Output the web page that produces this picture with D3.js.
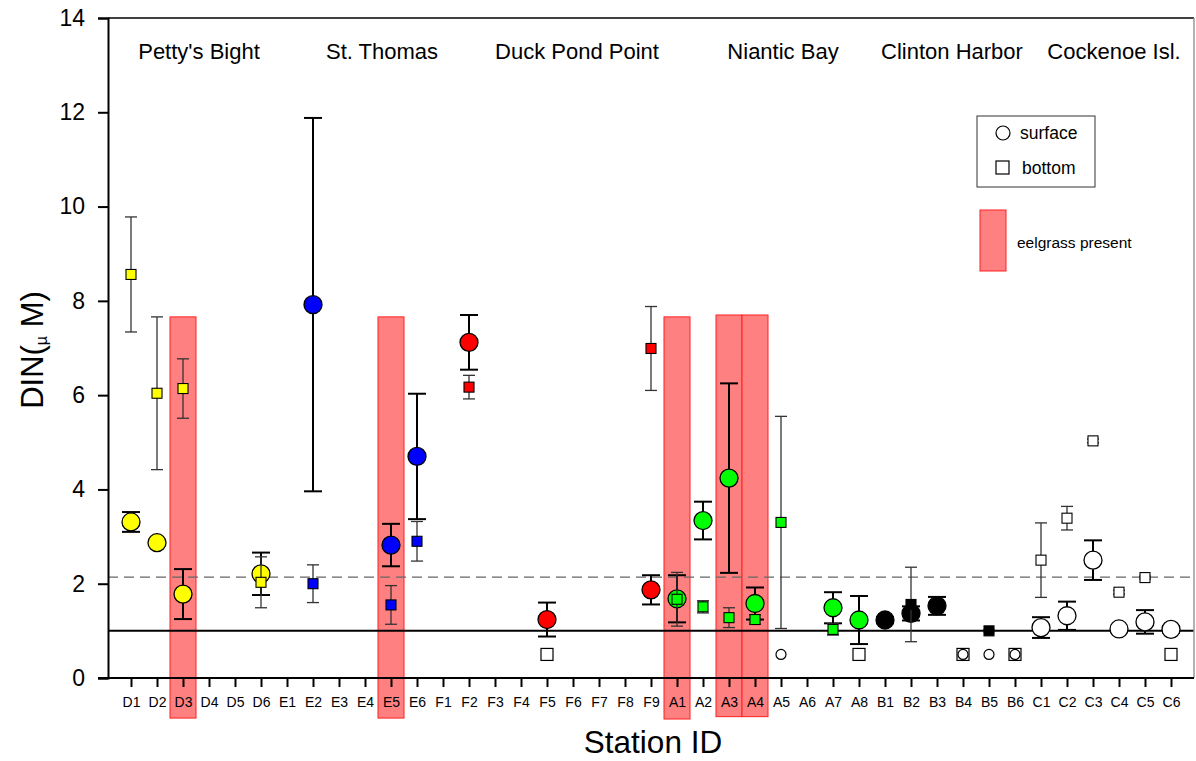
<!DOCTYPE html>
<html>
<head>
<meta charset="utf-8">
<script src="https://cdn.jsdelivr.net/npm/d3@7/dist/d3.min.js"></script>
<style>
  body { margin: 0; background: #fff; }
  svg { display: block; font-family: Arial, "Liberation Sans", sans-serif; }
</style>
</head>
<body>
<svg id="chart" width="1196" height="761"></svg>
<script>
// ---------------- DATA ----------------
const stations = ["D1","D2","D3","D4","D5","D6","E1","E2","E3","E4","E5","E6",
  "F1","F2","F3","F4","F5","F6","F7","F8","F9",
  "A1","A2","A3","A4","A5","A6","A7","A8",
  "B1","B2","B3","B4","B5","B6","C1","C2","C3","C4","C5","C6"];

const groupColors = { D: "#ffff00", E: "#0000ff", F: "#ff0000", A: "#00ff00", B: "#000000", C: "#ffffff" };

const surfaceMean = [3.31, 2.87, 1.78, null, null, 2.21,
  null, 7.92, null, null, 2.82, 4.70,
  null, 7.12, null, null, 1.24, null, null, null, 1.87,
  1.68, 3.34, 4.24, 1.58, null, null, 1.49, 1.23,
  1.23, 1.37, 1.53, null, null, null,
  1.07, 1.32, 2.50, 1.04, 1.19, 1.03];
const surfaceErr = [0.21, 0.05, 0.53, null, null, 0.45,
  null, 3.96, null, null, 0.45, 1.33,
  null, 0.58, null, null, 0.36, null, null, null, 0.31,
  0.50, 0.40, 2.01, 0.34, null, null, 0.33, 0.51,
  0.06, 0.15, 0.19, null, null, null,
  0.22, 0.30, 0.42, 0.03, 0.25, 0.07];

const bottomMean = [8.56, 6.04, 6.14, null, null, 2.03,
  null, 2.00, null, null, 1.55, 2.90,
  null, 6.17, null, null, null, null, null, null, 6.99,
  1.67, 1.51, 1.28, 1.24, 3.30, null, 1.03, null,
  null, 1.56, null, null, 1.00, null,
  2.50, 3.39, 5.03, 1.82, 2.13, null];
const bottomErr = [1.22, 1.62, 0.63, null, null, 0.54,
  null, 0.40, null, null, 0.41, 0.42,
  null, 0.25, null, null, null, null, null, null, 0.89,
  0.57, 0.13, 0.21, 0.10, 2.25, null, 0.12, null,
  null, 0.79, null, null, 0.02, null,
  0.79, 0.25, 0.04, 0.04, 0.03, null];

// not-detected placeholders plotted at a fixed value
const surfaceND = ["A5", "B4", "B5", "B6"];
const bottomND = ["F5", "A8", "B4", "B6", "C6"];
const ndValue = 0.5;

// eelgrass present bars
const eelStations = ["D3", "E5", "A1", "A3", "A4"];
const eelTop = [7.66, 7.66, 7.66, 7.70, 7.70];
const eelBottom = [-0.85, -0.85, -0.87, -0.82, -0.82];

// reference lines
const solidRef = 1.0;
const dashedRef = 2.14;

const regionNames = ["Petty's Bight", "St. Thomas", "Duck Pond Point", "Niantic Bay", "Clinton Harbor", "Cockenoe Isl."];
const yTicks = [0, 2, 4, 6, 8, 10, 12, 14];

// ---------------- LAYOUT ----------------
const svg = d3.select("#chart");
const plot = { left: 108, right: 1194, top: 18, bottom: 678 };
const x = d3.scalePoint().domain(stations).range([131, 1171]);
const y = d3.scaleLinear().domain([0, 14]).range([plot.bottom, plot.top]);
const step = x.step();
const colorOf = s => groupColors[s[0]];

// eelgrass bars (under everything)
svg.append("g").selectAll("rect").data(eelStations).join("rect")
  .attr("x", s => x(s) - step / 2)
  .attr("width", step)
  .attr("y", (s, i) => y(eelTop[i]))
  .attr("height", (s, i) => y(eelBottom[i]) - y(eelTop[i]))
  .attr("fill", "#ff8080").attr("stroke", "#ff2020").attr("stroke-width", 1);

// reference lines
svg.append("line").attr("x1", plot.left).attr("x2", plot.right)
  .attr("y1", y(solidRef)).attr("y2", y(solidRef))
  .attr("stroke", "#000").attr("stroke-width", 2);
svg.append("line").attr("x1", plot.left).attr("x2", 1196)
  .attr("y1", y(dashedRef)).attr("y2", y(dashedRef))
  .attr("stroke", "#666").attr("stroke-width", 1.3).attr("stroke-dasharray", "10,6");

// frame top & right
svg.append("line").attr("x1", plot.left).attr("x2", plot.right).attr("y1", plot.top).attr("y2", plot.top)
  .attr("stroke", "#000").attr("stroke-width", 1.5);
svg.append("line").attr("x1", plot.right).attr("x2", plot.right).attr("y1", plot.top).attr("y2", plot.bottom)
  .attr("stroke", "#999").attr("stroke-width", 1.5);

// axes
const yAxis = d3.axisLeft(y).tickValues(yTicks).tickSize(10).tickPadding(13).tickFormat(d3.format("d"));
const gy = svg.append("g").attr("transform", `translate(${plot.left},0)`).call(yAxis);
gy.select(".domain").attr("stroke", "#000").attr("stroke-width", 2);
gy.selectAll(".tick line").attr("stroke", "#000").attr("stroke-width", 2);
gy.selectAll(".tick text").attr("font-size", 23).attr("fill", "#000")
  .attr("font-family", "Arial, 'Liberation Sans', sans-serif");

const xAxis = d3.axisBottom(x).tickSize(9).tickPadding(10);
const gx = svg.append("g").attr("transform", `translate(0,${plot.bottom})`).call(xAxis);
gx.select(".domain").attr("d", `M${plot.left - 10},0H${plot.right}`).attr("stroke", "#000").attr("stroke-width", 2);
gx.selectAll(".tick line").attr("stroke", "#000").attr("stroke-width", 2);
gx.selectAll(".tick text").attr("font-size", 14).attr("fill", "#000")
  .attr("font-family", "Arial, 'Liberation Sans', sans-serif");

// axis titles
svg.append("text").attr("x", 653).attr("y", 753).attr("text-anchor", "middle")
  .attr("font-size", 31.5).text("Station ID");
const yt = svg.append("text").attr("transform", "translate(43,350) rotate(-90)")
  .attr("text-anchor", "middle").attr("font-size", 31);
yt.append("tspan").text("DIN(");
yt.append("tspan").attr("font-size", 16).attr("dy", 4).text("µ");
yt.append("tspan").attr("dy", -4).text(" M)");

// region labels
const regionX = [199, 382, 577, 783, 952, 1114];
svg.append("g").selectAll("text").data(regionNames).join("text")
  .attr("x", (d, i) => regionX[i]).attr("y", 59).attr("text-anchor", "middle")
  .attr("font-size", 22).text(d => d);

// build point data
const surf = stations.map((s, i) => ({ s, m: surfaceMean[i], e: surfaceErr[i] })).filter(d => d.m != null);
const bot = stations.map((s, i) => ({ s, m: bottomMean[i], e: bottomErr[i] })).filter(d => d.m != null);

function errorBars(g, data, capW, sw, col) {
  const eb = g.selectAll("g").data(data.filter(d => d.e)).join("g").attr("stroke", col).attr("stroke-width", sw);
  eb.append("line").attr("x1", d => x(d.s)).attr("x2", d => x(d.s))
    .attr("y1", d => y(d.m + d.e)).attr("y2", d => y(d.m - d.e));
  eb.append("line").attr("x1", d => x(d.s) - capW / 2).attr("x2", d => x(d.s) + capW / 2)
    .attr("y1", d => y(d.m + d.e)).attr("y2", d => y(d.m + d.e));
  eb.append("line").attr("x1", d => x(d.s) - capW / 2).attr("x2", d => x(d.s) + capW / 2)
    .attr("y1", d => y(d.m - d.e)).attr("y2", d => y(d.m - d.e));
}

// surface error bars & circles
errorBars(svg.append("g"), surf, 18, 2, "#000");
svg.append("g").selectAll("circle").data(surf).join("circle")
  .attr("cx", d => x(d.s)).attr("cy", d => y(d.m)).attr("r", 9)
  .attr("fill", d => colorOf(d.s)).attr("stroke", "#000").attr("stroke-width", 1.3);

// bottom error bars & squares
errorBars(svg.append("g"), bot, 12, 1.3, "#333");
svg.append("g").selectAll("rect").data(bot).join("rect")
  .attr("x", d => x(d.s) - 5).attr("y", d => y(d.m) - 5).attr("width", 10).attr("height", 10)
  .attr("fill", d => colorOf(d.s)).attr("stroke", "#000").attr("stroke-width", 1.1);

// not-detected placeholders
svg.append("g").selectAll("rect").data(bottomND).join("rect")
  .attr("x", s => x(s) - 6).attr("y", y(ndValue) - 6).attr("width", 12).attr("height", 12)
  .attr("fill", "#fff").attr("stroke", "#000").attr("stroke-width", 1.2);
svg.append("g").selectAll("circle").data(surfaceND).join("circle")
  .attr("cx", s => x(s)).attr("cy", y(ndValue)).attr("r", 5)
  .attr("fill", "#fff").attr("stroke", "#000").attr("stroke-width", 1.2);

// legend
const lg = svg.append("g");
lg.append("rect").attr("x", 977).attr("y", 116).attr("width", 118).attr("height", 71)
  .attr("fill", "#fff").attr("stroke", "#333").attr("stroke-width", 1);
lg.append("circle").attr("cx", 1003).attr("cy", 133).attr("r", 7)
  .attr("fill", "#fff").attr("stroke", "#000").attr("stroke-width", 1.2);
lg.append("text").attr("x", 1020).attr("y", 139).attr("font-size", 17.5).text("surface");
lg.append("rect").attr("x", 996).attr("y", 161).attr("width", 13).attr("height", 13)
  .attr("fill", "#fff").attr("stroke", "#000").attr("stroke-width", 1.2);
lg.append("text").attr("x", 1022).attr("y", 174).attr("font-size", 17.5).text("bottom");
lg.append("rect").attr("x", 980).attr("y", 210).attr("width", 26).attr("height", 61)
  .attr("fill", "#ff8080").attr("stroke", "#ff2020").attr("stroke-width", 1);
lg.append("text").attr("x", 1017).attr("y", 248).attr("font-size", 15.5).text("eelgrass present");
</script>
</body>
</html>
